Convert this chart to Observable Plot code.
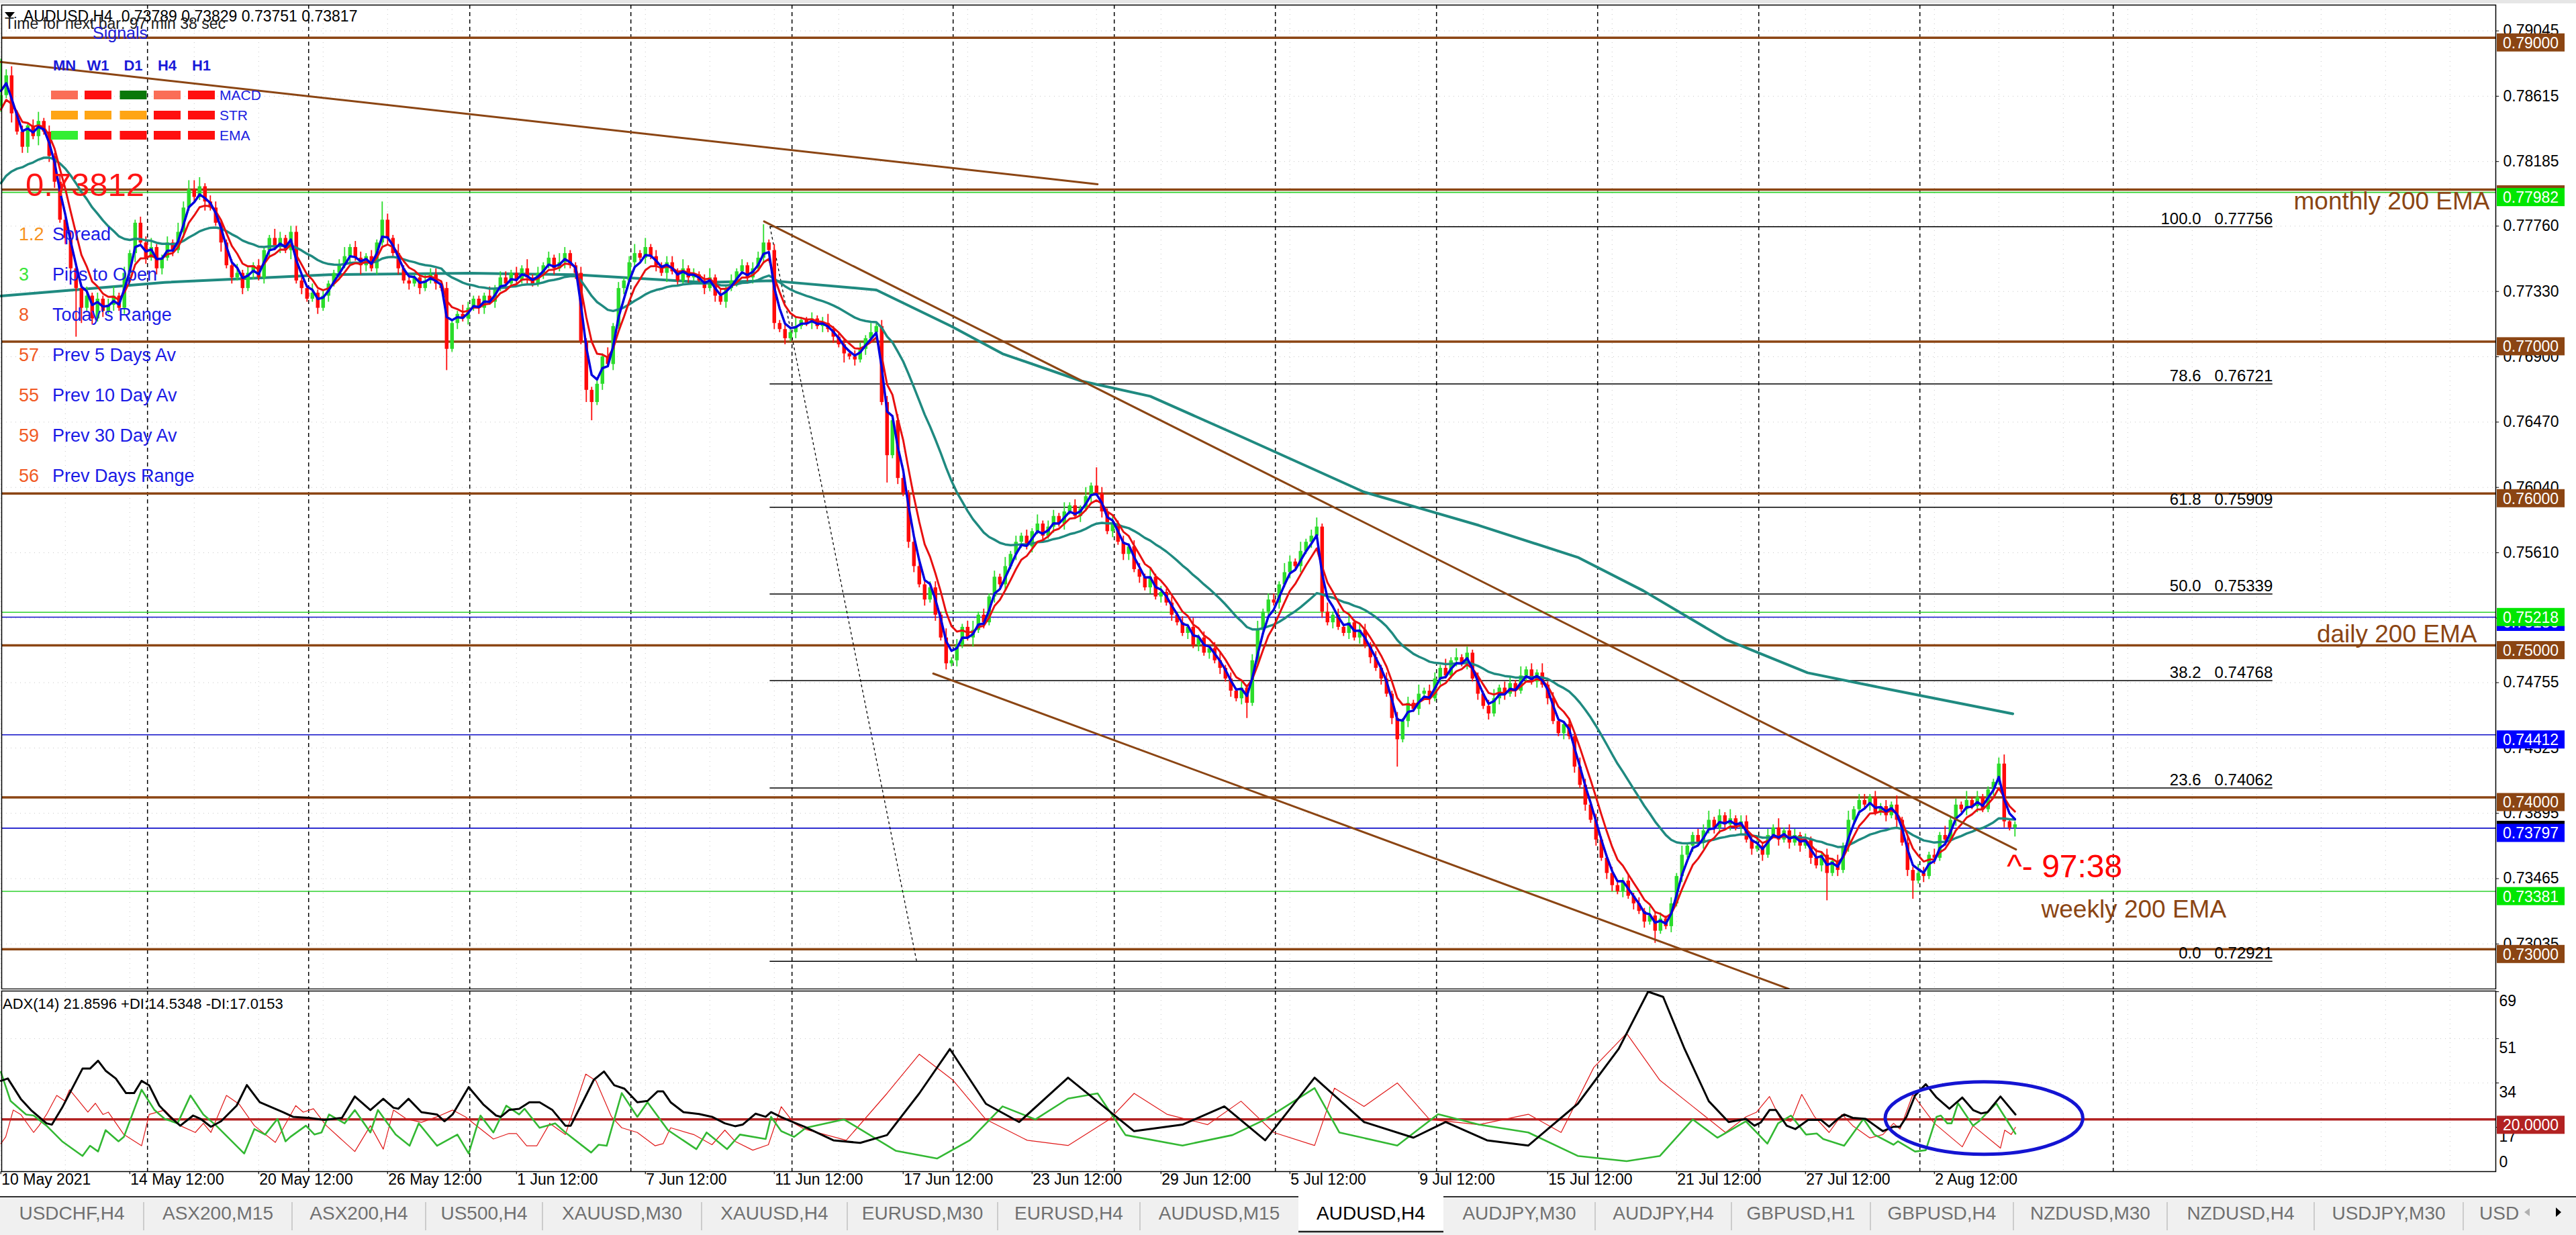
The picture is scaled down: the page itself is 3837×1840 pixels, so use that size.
<!DOCTYPE html>
<html><head><meta charset="utf-8">
<script src="https://cdn.jsdelivr.net/npm/d3@7"></script>
<script src="https://cdn.jsdelivr.net/npm/@observablehq/plot@0.6"></script>
<style>
body{margin:0;width:3837px;height:1840px;position:relative;overflow:hidden;background:#fff}
#main,#adx,#ov{position:absolute;left:0}
#main{top:0}#adx{top:1474px}#ov{top:0;pointer-events:none}
text{white-space:pre}
</style></head><body>
<div id="main"></div><div id="adx"></div><div id="ov"></div>
<script>
// ---------------- DATA ----------------
// H4 closes in pips (value / 10000 = price), bar 0 = 10 May 2021
const closes = [
7862,7875,7850,7838,7828,7842,7835,7845,7838,7822,
7805,7780,7768,7748,7735,7722,7730,7715,7728,7720,
7724,7730,7722,7745,7758,7778,7765,7755,7762,
7748,7755,7765,7760,7772,7788,7800,7795,7802,7792,
7788,7778,7765,7750,7742,7745,7735,7745,7750,7742,
7760,7768,7762,7768,7760,7772,7740,7735,7728,7732,
7722,7730,7738,7745,7750,7756,7762,7755,7750,7756,
7748,7765,7780,7768,7758,7748,7740,7738,7742,
7735,7740,7744,7738,7735,7695,7712,7718,7715,7722,
7728,7722,7730,7726,7735,7742,7738,7745,7740,7748,
7742,7738,7745,7750,7755,7748,7752,7758,7750,7745,
7700,7668,7660,7672,7690,7685,7710,7735,7740,7752,
7758,7755,7762,7756,7750,7745,7752,7746,7740,7748,
7742,7744,7740,7735,7742,7730,7726,7735,7740,
7746,7750,7742,7748,7755,7765,7760,7712,7708,7702,
7706,7710,7714,7712,7715,7710,7712,7708,7703,7698,
7692,7690,7688,7695,7702,7706,7710,7660,7625,7648,
7610,7600,7568,7552,7540,7530,7538,7520,7505,7488,
7490,7500,7512,7505,7510,7520,7515,7532,7545,
7540,7552,7560,7568,7572,7565,7575,7580,7572,7578,
7585,7580,7588,7592,7585,7590,7598,7605,7600,7588,
7575,7580,7568,7560,7565,7550,7545,7538,7545,7532,
7535,7528,7520,7515,7508,7512,7500,7505,7495,
7498,7490,7485,7478,7470,7465,7472,7462,7490,7510,
7522,7530,7528,7540,7548,7555,7552,7562,7568,7572,
7578,7522,7515,7520,7512,7508,7515,7505,7510,7500,
7492,7485,7478,7468,7452,7438,7450,7462,7458,7468,
7470,7465,7478,7485,7480,7490,7492,7488,7495,
7478,7468,7460,7455,7465,7472,7468,7475,7470,7480,
7484,7476,7482,7474,7465,7450,7442,7448,7440,7420,
7408,7395,7385,7372,7360,7350,7342,7338,7345,7335,
7330,7325,7318,7322,7312,7320,7315,7330,7348,7362,
7368,7375,7370,7378,7385,7380,7388,7382,7386,7380,
7384,7372,7366,7368,7362,7375,7380,7372,7378,
7370,7375,7368,7372,7360,7355,7362,7350,7358,7352,
7368,7385,7392,7398,7395,7400,7390,7394,7388,7395,
7385,7370,7352,7345,7350,7348,7362,7360,7375,7372,
7385,7395,7392,7398,7394,7400,7392,7405,7410,7422,
7384,7380,7382];
const firstOpen = 7855;
// upper / lower wick per bar, base-36 digit x 2 pips
const upWick = ["c231212312","1212213121","2312112231","1213233312","2112312121","1321221131","2112312212","1621312112","2212113211","1312212131","2121321121","1213121231","3121221312","1231212121","2261212131","1212311212","2131221211","1212213121","2312121312","1213122131","2131621312","1221312121","2131212312","1212312213","2131231312","1312212121","2121312213","1312121231","2213121312","1121321211","2112121312","1213112231","2131221312","1312212131","2121312212","1213121321","2131213121","112311"].join("");
const downWick = ["2131221312","2121g51212","1212131212","2121212131","1312121212","2121312112","1212121321","2121212121","1217121212","2121212121","1212121214","6121212121","2121312121","1212121212","2121212121","1212121312","1212191212","2121212121","1312121212","2121212121","1212121212","2121212121","1212121212","1251212121","2121212121","1212121212","9121212121","1212121212","2121212121","1212121212","2121212141","1212121212","2121212121","1212121212","9121212121","1213126121","2121212121","121213"].join("");
// EMA seeds read at the left edge (pips)
const emaSeeds = {blue: 7868, red: 7849, teal: 7800};
// slow (200) EMA: [bar, price]
const slowEma = [[0,0.7730],[30.5,0.7739],[61.1,0.7744],[87.4,0.7745],[107,0.7744],[131.1,0.7739],[143.7,0.7740],[163,0.7734],[177,0.7710],[186.5,0.7692],[201.2,0.7674],[214,0.7664],[231.2,0.7637],[253.8,0.7601],[275.2,0.7579],[293.6,0.7558],[305.8,0.7536],[321.1,0.7504],[336.4,0.7482],[351.7,0.7471],[374.6,0.7455]];

const xLabelIdx = [0,24,48,72,96,120,144,168,192,216,240,264,288,312,336,360];
const xLabels = ["10 May 2021","14 May 12:00","20 May 12:00","26 May 12:00","1 Jun 12:00","7 Jun 12:00","11 Jun 12:00","17 Jun 12:00","23 Jun 12:00","29 Jun 12:00","5 Jul 12:00","9 Jul 12:00","15 Jul 12:00","21 Jul 12:00","27 Jul 12:00","2 Aug 12:00"];
const separators = [27.3,57.3,87.3,117.3,147.3,177.3,207.3,237.3,267.3,297.3,327.3,357.3,393.3];
const yTicks = [0.79045,0.78615,0.78185,0.77760,0.77330,0.76900,0.76470,0.76040,0.75610,0.75180,0.74755,0.74325,0.73895,0.73465,0.73035];
const brownLevels = [0.79,0.78,0.77,0.76,0.75,0.74,0.73];
const greenLevels = [0.77982,0.75218,0.73381];
const blueLevels = [0.75186,0.74412,0.73797];
const fibLevels = [100.0,78.6,61.8,50.0,38.2,23.6,0.0];
const fibPrices = [0.77756,0.76721,0.75909,0.75339,0.74768,0.74062,0.72921];
const fibSpan = [143.2, 423.0];
const trendTop = [[-0.1,0.78841],[204.2,0.78036]];
const channelUpper = [[142.1,0.77791],[375.2,0.73657]];
const channelLower = [[173.6,0.74815],[332.9,0.72739]];
const fibDiag = [[143.2,0.77756],[170.5,0.72921]];
const priceBoxes = [[0.79,"#8b4513"],[0.78,"#8b4513"],[0.77982,"#00e600"],[0.77,"#8b4513"],[0.76,"#8b4513"],[0.75186,"#0000ff"],[0.75218,"#00e600"],[0.75,"#8b4513"],[0.74412,"#0000ff"],[0.74,"#8b4513"],[0.73817,"#000000"],[0.73797,"#0000ff"],[0.73381,"#00e600"],[0.73,"#8b4513"]];

// ADX(14) lines: [bar, value]
const adxLine = [[0,34.8],[1.3,35.7],[3.7,27.9],[5.6,23.6],[8.5,18.5],[9.5,18.0],[11.4,24.5],[15.2,39.5],[16.6,39.5],[18.1,42.5],[19.5,38.7],[21.4,35.7],[23.3,30.1],[24.8,30.1],[26.2,34.8],[27.6,33.1],[29.5,25.3],[31.5,21.0],[33.4,17.6],[35.8,21.5],[37.2,20.2],[39.1,17.2],[41.0,19.3],[43.9,25.3],[45.8,33.2],[48.2,26.6],[50.6,24.5],[52.5,22.8],[54.4,21.0],[57.3,20.6],[60.2,19.8],[63.5,20.6],[65.9,28.8],[68.8,23.6],[71.2,27.9],[73.1,24.5],[74.0,24.1],[75.9,27.9],[78.3,22.8],[81.2,21.9],[82.6,19.3],[84.1,21.9],[87.1,32.4],[89.8,25.8],[92.2,21.5],[93.1,21.0],[94.6,23.6],[96.5,24.1],[98.4,26.6],[100.3,26.6],[102.7,23.6],[105.1,17.6],[106.1,17.6],[108.0,25.3],[110.4,35.2],[112.3,38.4],[114.2,33.1],[116.1,31.8],[118.5,26.6],[120.4,27.1],[122.3,30.8],[123.3,30.8],[124.7,26.6],[127.1,22.8],[130.0,22.1],[132.4,21.0],[134.8,18.5],[136.7,17.4],[138.1,18.0],[140.5,22.2],[142.4,21.0],[143.4,22.8],[145.3,20.9],[147.2,19.2],[149.6,17.2],[155,12],[160,11],[165,14],[171,30],[176.7,47],[183.4,26],[189.6,19],[198.7,36],[211,15.5],[220,18],[227.8,25],[235.4,12],[244.6,36],[253.8,19],[263,13],[269,19],[276.7,12],[284.4,10],[293.6,26],[301.2,47],[306.7,69],[309.5,67],[313.5,47],[318,27],[321.7,19],[324.9,20.2],[326.5,17.6],[327.7,18.9],[329.3,23.6],[330.5,23.6],[332.5,17.6],[334.1,16.3],[336.5,19.8],[338.9,19.8],[340.4,17.2],[342.0,20.2],[343.2,21.9],[344.8,20.6],[347.2,20.2],[350.4,15.5],[352.4,17.2],[353.6,17.2],[354.8,21.0],[356.4,29.2],[358.4,33.5],[360.4,28.4],[362.8,24.1],[365.2,28.4],[367.2,23.6],[368.7,22.3],[369.9,22.8],[372.3,28.8],[375.1,21.9]];
const plusDI = [[0,38.2],[1.8,27.1],[4.7,21.9],[6.1,21.5],[8.5,17.6],[11.4,11.6],[15.2,6.0],[16.6,9.9],[18.1,7.7],[19.5,15.9],[21.9,11.6],[22.9,13.3],[26.2,31.4],[28.6,23.6],[30.5,20.2],[32.9,18.5],[35.3,29.2],[37.7,21.9],[40.1,17.6],[45.3,6.9],[47.2,16.3],[49.2,14.2],[51.5,20.2],[53.0,11.6],[53.9,13.3],[56.8,17.6],[58.4,14.2],[59.7,15.0],[61.1,21.9],[64.0,18.5],[65.9,23.6],[68.8,15.0],[70.2,23.6],[73.5,14.2],[76.1,9.9],[77.8,18.5],[81.2,9.9],[85.0,14.2],[87.1,6.9],[88.8,18.5],[89.3,21.5],[91.7,15.0],[94.1,25.3],[96.5,21.9],[97.5,24.1],[100.3,16.8],[103.2,18.5],[105.1,15.0],[109.9,7.3],[111.3,10.3],[112.8,9.9],[115.6,30.1],[118.5,21.0],[120.4,26.6],[124.2,15.9],[129.5,8.6],[131.4,15.0],[135.2,8.6],[137.6,14.2],[142.4,12.5],[143.4,21.0],[145.3,15.5],[147.7,13.3],[149.9,16.8],[157,20],[166.6,8],[174.3,5],[180.4,12],[186.5,25],[192.6,20],[198.7,28],[204.2,30],[209.4,14],[220,10],[229.3,14],[235.4,20],[244.6,32],[249.2,15],[260,10],[267.6,22],[275.2,18],[284.4,15],[293.6,6],[302.7,4],[308.9,6],[315,20],[319.6,13],[324.9,19.3],[328.9,10.7],[330.9,18.5],[333.3,21.5],[336.1,14.2],[338.1,14.6],[339.3,12.5],[343.2,9.9],[346.8,20.2],[348.8,14.2],[352.4,10.3],[353.2,11.6],[356.4,7.7],[358.4,8.2],[360.4,21.0],[361.2,21.5],[362.4,18.5],[363.2,18.5],[364.4,26.2],[367.2,17.6],[368.3,19.3],[371.5,26.2],[375.1,14.5]];
const minusDI = [[0,10.7],[0.9,13.3],[2.3,23.6],[3.7,21.9],[6.1,15.0],[7.1,17.6],[8.5,21.9],[10.4,29.2],[11.9,27.1],[12.8,31.4],[14.2,27.9],[16.2,22.8],[17.6,26.2],[19.0,21.9],[20.0,22.8],[22.9,14.2],[26.2,9.9],[27.6,21.9],[30.5,23.6],[33.4,17.6],[36.2,15.0],[37.7,18.5],[39.1,15.0],[42.0,29.2],[44.4,25.8],[47.2,17.6],[51.1,11.2],[54.9,25.3],[56.3,22.8],[58.2,24.1],[60.6,17.6],[65.9,7.7],[68.8,17.6],[71.2,8.6],[73.1,23.6],[75.5,20.2],[78.3,18.9],[81.2,21.0],[84.1,23.6],[86.5,21.0],[88.8,17.2],[91.7,12.5],[94.6,14.6],[96.0,14.6],[97.9,9.9],[99.8,9.9],[102.2,18.5],[105.1,14.2],[108.9,37.4],[110.8,34.8],[113.7,21.0],[115.6,16.8],[118.5,15.0],[121.8,9.9],[123.3,10.7],[124.7,16.8],[129.0,14.2],[132.4,10.3],[134.8,15.9],[136.7,11.6],[140.0,8.2],[142.9,10.3],[145.3,24.9],[147.7,18.5],[149.6,16.3],[157.4,12],[165,30],[171,45],[177.3,35],[183.4,20],[191.1,12],[198.7,10],[206.4,20],[211,30],[217.1,22],[224.7,18],[230.9,27],[237,15],[244.6,10],[248.3,32],[253.8,25],[260,34],[266,20],[275.2,18],[284.4,22],[290.5,15],[296.6,40],[302.7,53],[308.9,35],[315,25],[321.1,15],[324.9,21.0],[326.9,22.8],[329.3,28.8],[331.3,20.2],[333.3,19.3],[335.3,29.6],[337.7,21.0],[340.4,15.0],[342.8,21.9],[344.8,17.6],[348.0,12.9],[350.4,14.2],[352.4,18.5],[353.6,16.3],[356.0,29.6],[357.2,26.2],[360.0,18.5],[365.2,9.5],[367.2,17.6],[372.3,9.0],[373.1,15.9],[374.3,14.2],[375.1,17.0]];
const adxTicks = [69,51,34,17];
const adxEllipse = {bar: 369.3, value: 20.4, rBars: 18.4, rValue: 13.9};

// on-chart panel data
const signalCols = ["MN","W1","D1","H4","H1"];
const signalRows = ["MACD","STR","EMA"];
const signalColors = [["#fa6e57","#ff0f0f","#0a780a","#fa6e57","#ff0f0f"],["#ffa514","#ffa514","#ffa514","#ff0f0f","#ff0f0f"],["#33ee33","#ff0f0f","#ff0f0f","#ff0f0f","#ff0f0f"]];
const infoValues = ["1.2","3","8","57","55","59","56"];
const infoColors = ["#f7931e","#39e639","#f15a24","#f15a24","#f15a24","#f15a24","#f15a24"];
const infoLabels = ["Spread","Pips to Open","Today's Range","Prev 5 Days Av","Prev 10 Day Av","Prev 30 Day Av","Prev Days Range"];
const tabNames = ["USDCHF,H4","ASX200,M15","ASX200,H4","US500,H4","XAUUSD,M30","XAUUSD,H4","EURUSD,M30","EURUSD,H4","AUDUSD,M15","AUDUSD,H4","AUDJPY,M30","AUDJPY,H4","GBPUSD,H1","GBPUSD,H4","NZDUSD,M30","NZDUSD,H4","USDJPY,M30","USD"];
const tabEdges = [0,214,435,634,808,1045,1262,1486,1698,1934,2150,2376,2579,2786,2999,3228,3447,3669,3745];
const activeTab = 9;

// ---------------- BUILD ----------------
const FONT = "Liberation Sans, Arial, sans-serif";
const GREEN = "#2bdc2b", RED = "#ff0a0a", BROWN = "#8b4513", TEAL = "#1f8a80";
const bars = closes.map((c, i) => {
  const o = i ? closes[i-1] : firstOpen;
  const up = parseInt(upWick[i], 36) * 2, dn = parseInt(downWick[i], 36) * 2;
  return {i, o: o/1e4, c: c/1e4, h: (Math.max(o,c)+up)/1e4, l: (Math.min(o,c)-dn)/1e4, up: c >= o};
});
function ema(vals, period, seed) { const a = 2/(period+1); let e = seed; return vals.map((v, i) => [i, (e = e + a*(v - e))/1e4]); }
const emaBlue = ema(closes, 3, emaSeeds.blue), emaRed = ema(closes, 6, emaSeeds.red), emaTeal = ema(closes, 28, emaSeeds.teal);
const fibRows = fibLevels.map((l, k) => ({lvl: l, p: fibPrices[k]}));
const xDomain = [0.15, 464.525];
const gridX = d3.range(0, 465, 12);
const nb = "\u00a0";

const mainPlot = Plot.plot({
  width: 3837, height: 1474, marginTop: 7, marginBottom: 1, marginLeft: 2, marginRight: 120,
  x: {domain: xDomain, axis: null},
  y: {domain: [0.727385, 0.792152], axis: null},
  style: {fontFamily: FONT, background: "white"},
  marks: [
    Plot.ruleX(gridX, {stroke: "#c8c8c8", strokeDasharray: "1,6"}),
    Plot.ruleY(yTicks, {stroke: "#c8c8c8", strokeDasharray: "1,6"}),
    Plot.ruleX(separators, {stroke: "black", strokeWidth: 1.5, strokeDasharray: "6,5"}),
    Plot.ruleY(greenLevels, {stroke: "#2fd12f", strokeWidth: 1.6}),
    Plot.ruleY(blueLevels, {stroke: "#1010c8", strokeWidth: 1.6}),
    Plot.ruleY(brownLevels, {stroke: BROWN, strokeWidth: 3.5}),
    Plot.ruleY(fibRows, {y: "p", x1: fibSpan[0], x2: fibSpan[1], stroke: "black", strokeWidth: 1.5}),
    Plot.text(fibRows, {x: fibSpan[1], y: "p", text: d => d.lvl.toFixed(1) + nb+nb+nb + d.p.toFixed(5), textAnchor: "end", lineAnchor: "bottom", dy: -4, fontSize: 24, fill: "black", fontFamily: FONT}),
    Plot.line(fibDiag, {stroke: "black", strokeDasharray: "3,5", strokeWidth: 1.3}),
    Plot.line(slowEma, {stroke: TEAL, strokeWidth: 4}),
    Plot.ruleX(bars.filter(d => d.up), {x: "i", y1: "l", y2: "h", stroke: GREEN, strokeWidth: 1.8}),
    Plot.ruleX(bars.filter(d => !d.up), {x: "i", y1: "l", y2: "h", stroke: RED, strokeWidth: 1.8}),
    Plot.ruleX(bars.filter(d => d.up), {x: "i", y1: "o", y2: "c", stroke: GREEN, strokeWidth: 5.5}),
    Plot.ruleX(bars.filter(d => !d.up), {x: "i", y1: "o", y2: "c", stroke: RED, strokeWidth: 5.5}),
    Plot.line(emaTeal, {stroke: TEAL, strokeWidth: 3.5}),
    Plot.line(emaRed, {stroke: "#e81010", strokeWidth: 3}),
    Plot.line(emaBlue, {stroke: "#0000e0", strokeWidth: 3.5}),
    Plot.line(trendTop, {stroke: BROWN, strokeWidth: 3}),
    Plot.line(channelUpper, {stroke: BROWN, strokeWidth: 3}),
    Plot.line(channelLower, {stroke: BROWN, strokeWidth: 3}),
    Plot.text(["monthly 200 EMA"], {x: 426.9, y: 0.77868, text: d => d, textAnchor: "start", lineAnchor: "bottom", fontSize: 37, fill: BROWN, fontFamily: FONT}),
    Plot.text(["daily 200 EMA"], {x: 431.2, y: 0.75022, text: d => d, textAnchor: "start", lineAnchor: "bottom", fontSize: 37, fill: BROWN, fontFamily: FONT}),
    Plot.text(["weekly 200 EMA"], {x: 379.9, y: 0.73207, text: d => d, textAnchor: "start", lineAnchor: "bottom", fontSize: 37, fill: BROWN, fontFamily: FONT}),
    Plot.text(["^-" + nb + "97:38"], {x: 373.5, y: 0.73472, text: d => d, textAnchor: "start", lineAnchor: "bottom", fontSize: 48, fill: "#ff0000", fontFamily: FONT}),
    Plot.ruleY(yTicks, {x1: xDomain[1], x2: xDomain[1] + 0.65, stroke: "black"}),
    Plot.text(yTicks, {x: xDomain[1], y: d => d, dx: 11, text: d => d.toFixed(5), textAnchor: "start", fontSize: 23, fill: "black", fontFamily: FONT}),
    Plot.frame({stroke: "black", strokeWidth: 1.5})
  ]
});
document.getElementById("main").appendChild(mainPlot);

const adxPlot = Plot.plot({
  width: 3837, height: 308, marginTop: 2, marginBottom: 37, marginLeft: 2, marginRight: 120,
  x: {domain: xDomain, axis: null},
  y: {domain: [0, 69.26], axis: null},
  style: {fontFamily: FONT, background: "white"},
  marks: [
    Plot.ruleX(gridX, {stroke: "#c8c8c8", strokeDasharray: "1,6"}),
    Plot.ruleY([51, 34], {stroke: "#c8c8c8", strokeDasharray: "1,6"}),
    Plot.ruleX(separators, {stroke: "black", strokeWidth: 1.5, strokeDasharray: "6,5"}),
    Plot.ruleY([20], {stroke: "#b22222", strokeWidth: 3.5}),
    Plot.line(minusDI, {stroke: "#e01818", strokeWidth: 1.2}),
    Plot.line(plusDI, {stroke: "#33b833", strokeWidth: 2.6}),
    Plot.line(adxLine, {stroke: "black", strokeWidth: 3}),
    Plot.ruleX(xLabelIdx, {y1: 0, y2: -1.1, stroke: "black", strokeWidth: 1.2}),
    Plot.text(xLabelIdx, {x: d => d, frameAnchor: "bottom", text: (d, i) => xLabels[i], textAnchor: "start", lineAnchor: "top", dy: 3, dx: 1, fontSize: 23, fill: "black", fontFamily: FONT}),
    Plot.ruleY(adxTicks, {x1: xDomain[1], x2: xDomain[1] + 0.65, stroke: "black"}),
    Plot.text(adxTicks, {x: xDomain[1], y: d => d, dx: 5, dy: 5, text: d => String(d), textAnchor: "start", lineAnchor: "top", fontSize: 23, fill: "black", fontFamily: FONT}),
    Plot.text([0], {x: xDomain[1], y: d => d, dx: 5, dy: -7, text: d => String(d), textAnchor: "start", lineAnchor: "bottom", fontSize: 23, fill: "black", fontFamily: FONT}),
    Plot.frame({stroke: "black", strokeWidth: 1.5})
  ]
});
{
  const sx = adxPlot.scale("x"), sy = adxPlot.scale("y");
  const cx = sx.apply(adxEllipse.bar), cy = sy.apply(adxEllipse.value);
  d3.select(adxPlot).append("ellipse").attr("cx", cx).attr("cy", cy)
    .attr("rx", sx.apply(adxEllipse.bar + adxEllipse.rBars) - cx)
    .attr("ry", sy.apply(adxEllipse.value - adxEllipse.rValue) - cy)
    .attr("fill", "none").attr("stroke", "#1414d2").attr("stroke-width", 5);
}
document.getElementById("adx").appendChild(adxPlot);

// ---------------- OVERLAY (panel texts, price labels, tabs) ----------------
const ov = d3.select("#ov").append("svg").attr("width", 3837).attr("height", 1840).style("display", "block");
function T(x, y, s, size, fill, o = {}) {
  const t = ov.append("text").attr("x", x).attr("y", y).attr("font-size", size).attr("fill", fill)
    .attr("font-family", FONT).text(s);
  if (o.anchor) t.attr("text-anchor", o.anchor);
  if (o.weight) t.attr("font-weight", o.weight);
  return t;
}
// top strip
ov.append("rect").attr("x", 0).attr("y", 0).attr("width", 3837).attr("height", 5).attr("fill", "#e6e6e6");
// header
ov.append("path").attr("d", "M7,18 L22,18 L14.5,27 Z").attr("fill", "black");
T(35, 32, "AUDUSD,H4  0.73789 0.73829 0.73751 0.73817", 23, "black");
T(7, 43, "Time for next bar: 97 min 38 sec", 23, "#202020");
T(138, 58, "Signals", 25, "#2020d8");
const colCenters = [96, 146, 198.5, 249, 300];
signalCols.forEach((c, j) => T(colCenters[j], 105, c, 22, "#1a1ad8", {anchor: "middle", weight: "bold"}));
const rowTops = [135, 165, 195];
signalRows.forEach((r, k) => {
  signalColors[k].forEach((col, j) => ov.append("rect").attr("x", colCenters[j] - 20).attr("y", rowTops[k]).attr("width", 40).attr("height", 13).attr("fill", col));
  T(327, rowTops[k] + 14, r, 21, "#2020e0");
});
T(38, 292, "0.73812", 49, "#ff1414");
infoValues.forEach((v, k) => { T(28, 358 + 60*k, v, 27, infoColors[k]); T(78, 358 + 60*k, infoLabels[k], 27, "#1a1ae6"); });
T(4, 1503, "ADX(14) 21.8596 +DI:14.5348 -DI:17.0153", 22, "black");

// price labels on the right axis
const msy = mainPlot.scale("y");
priceBoxes.forEach(([v, col]) => {
  const y = msy.apply(v);
  ov.append("rect").attr("x", 3719).attr("y", y - 6).attr("width", 101).attr("height", 27).attr("fill", col);
  T(3728, y + 16, v.toFixed(5), 23, "white");
});
{
  const y = 1474 + adxPlot.scale("y").apply(20);
  ov.append("rect").attr("x", 3719).attr("y", y - 5).attr("width", 101).attr("height", 27).attr("fill", "#b22222");
  T(3728, y + 17, "20.0000", 23, "white");
}

// tab bar
ov.append("rect").attr("x", 0).attr("y", 1782).attr("width", 3837).attr("height", 58).attr("fill", "#f0f0f0");
ov.append("line").attr("x1", 0).attr("x2", 3837).attr("y1", 1783).attr("y2", 1783).attr("stroke", "#303030").attr("stroke-width", 2);
tabNames.forEach((n, k) => {
  const x0 = tabEdges[k], x1 = tabEdges[k+1];
  if (k === activeTab) {
    ov.append("rect").attr("x", x0).attr("y", 1782).attr("width", x1 - x0).attr("height", 52).attr("fill", "white");
    ov.append("line").attr("x1", x0).attr("x2", x1).attr("y1", 1835).attr("y2", 1835).attr("stroke", "#202020").attr("stroke-width", 2.5);
  } else if (k > 0 && k !== activeTab + 1) {
    ov.append("line").attr("x1", x0).attr("x2", x0).attr("y1", 1791).attr("y2", 1833).attr("stroke", "#a8a8a8");
  }
  if (k === tabNames.length - 1) T(x0 + 24, 1817, n, 28, "#707070");
  else T((x0 + x1) / 2, 1817, n, 28, k === activeTab ? "black" : "#707070", {anchor: "middle"});
});
ov.append("path").attr("d", "M3768,1800 L3760,1806 L3768,1812 Z").attr("fill", "#b0b0b0");
ov.append("path").attr("d", "M3807,1799 L3815,1806 L3807,1813 Z").attr("fill", "black");
</script></body></html>
